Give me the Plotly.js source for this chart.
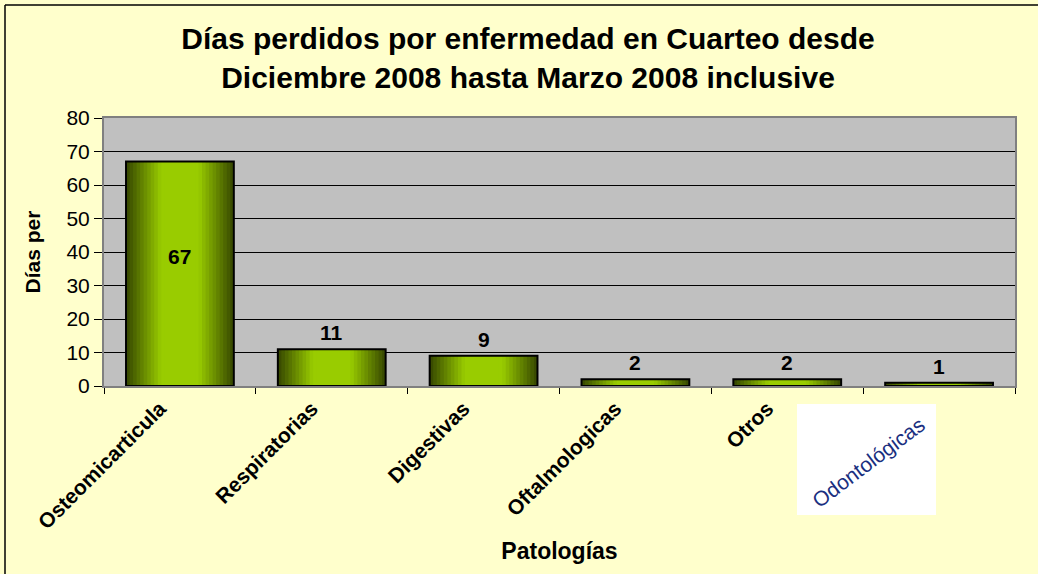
<!DOCTYPE html>
<html>
<head>
<meta charset="utf-8">
<script src="https://cdn.plot.ly/plotly-3.0.1.min.js"></script>
<style>html,body{margin:0;padding:0;background:#FFFFCC;}#chart{width:1038px;height:574px;}</style>
</head>
<body>
<div id="chart"></div>
<script>
const categories = ['Osteomicarticula', 'Respiratorias', 'Digestivas', 'Oftalmologicas', 'Otros', 'Odontológicas'];
const values = [67, 11, 9, 2, 2, 1];
const tickLabels = ['Osteomicarticula', 'Respiratorias', 'Digestivas', 'Oftalmologicas', 'Otros', ''];
const yTickVals = [0, 10, 20, 30, 40, 50, 60, 70, 80];
const titleLines = ['Días perdidos por enfermedad en Cuarteo desde', 'Diciembre 2008 hasta Marzo 2008 inclusive'];
const yTitle = 'Días per';
const xTitle = 'Patologías';
const pastedLabel = 'Odontológicas';

const FONT = '"Liberation Sans", Arial, sans-serif';
const W = 1038, H = 574;
const M = {l: 104, r: 23, t: 118, b: 188};
const PW = W - M.l - M.r, PH = H - M.t - M.b;
const px = x => (x - M.l) / PW;
const py = y => (H - M.b - y) / PH;

const barW = 0.71;
const dark = [58, 76, 0], bright = [153, 204, 0];
const traces = [];
const nLayers = 12;
for (let i = 0; i < nLayers; i++) {
  const f = 1 - i * (0.72 / (nLayers - 1));
  const t = Math.min(1, (1 - f) / 0.62);
  const c = dark.map((d, k) => Math.round(d + (bright[k] - d) * t));
  traces.push({
    type: 'bar', x: categories, y: values,
    width: categories.map(() => barW * f),
    marker: {color: `rgb(${c.join(',')})`, line: {width: 0}},
    hoverinfo: 'skip', showlegend: false
  });
}
traces.push({
  type: 'bar', x: categories, y: values,
  width: categories.map(() => barW),
  marker: {color: 'rgba(0,0,0,0)', line: {color: '#000', width: 2}},
  showlegend: false
});

const annotations = values.map((v, i) => i === 0 ? {
  x: categories[i], y: v / 2, xref: 'x', yref: 'y', text: '<b>' + v + '</b>',
  showarrow: false, xanchor: 'center', yanchor: 'middle', yshift: 17,
  font: {family: FONT, size: 21, color: '#000'}
} : {
  x: categories[i], y: v, xref: 'x', yref: 'y', text: '<b>' + v + '</b>',
  showarrow: false, xanchor: 'center', yanchor: 'bottom', yshift: 3,
  font: {family: FONT, size: 21, color: '#000'}
});
annotations.push({
  x: px(868), y: py(462), xref: 'paper', yref: 'paper', text: pastedLabel,
  showarrow: false, xanchor: 'center', yanchor: 'middle', textangle: -37,
  font: {family: FONT, size: 21, color: '#1a2f80'}
});

const layout = {
  width: W, height: H, margin: M,
  paper_bgcolor: '#FFFFCC', plot_bgcolor: '#C0C0C0',
  barmode: 'overlay',
  title: {
    text: '<b>' + titleLines.join('<br>') + '</b>',
    x: 528 / W, xanchor: 'center', y: 1 - 49 / H, yanchor: 'top', yref: 'container',
    font: {family: FONT, size: 30, color: '#000'}
  },
  xaxis: {
    type: 'category', tickvals: categories, ticktext: tickLabels, tickangle: -45,
    tickson: 'boundaries', ticks: 'outside', ticklen: 6, tickcolor: '#000',
    ticklabelshift: -20,
    showline: true, linecolor: '#808080', linewidth: 2, mirror: true,
    showgrid: false,
    tickfont: {family: FONT, size: 21, color: '#000', weight: 'bold'},
    title: {text: '<b>' + xTitle + '</b>', font: {family: FONT, size: 23, color: '#000'}, standoff: 10},
    automargin: false
  },
  yaxis: {
    range: [0, 80], tickvals: yTickVals, ticks: 'outside', ticklen: 8, tickcolor: '#000',
    showline: true, linecolor: '#808080', linewidth: 2, mirror: true,
    showgrid: true, gridcolor: '#000', gridwidth: 1, zeroline: false,
    tickfont: {family: FONT, size: 21, color: '#000'},
    title: {text: '<b>' + yTitle + '</b>', font: {family: FONT, size: 21, color: '#000'}, standoff: 20},
    automargin: false
  },
  shapes: [
    {type: 'rect', xref: 'paper', yref: 'paper', x0: px(797), x1: px(936), y0: py(515), y1: py(404),
      fillcolor: '#FFFFFF', line: {width: 0}, layer: 'above'},
    {type: 'line', xref: 'paper', yref: 'paper', x0: px(5), x1: px(5), y0: py(574), y1: py(5),
      line: {color: '#000', width: 1.5}},
    {type: 'line', xref: 'paper', yref: 'paper', x0: px(5), x1: px(1038), y0: py(5), y1: py(5),
      line: {color: '#000', width: 1.5}}
  ],
  annotations: annotations
};

Plotly.newPlot('chart', traces, layout, {displayModeBar: false, staticPlot: true});
</script>
</body>
</html>
